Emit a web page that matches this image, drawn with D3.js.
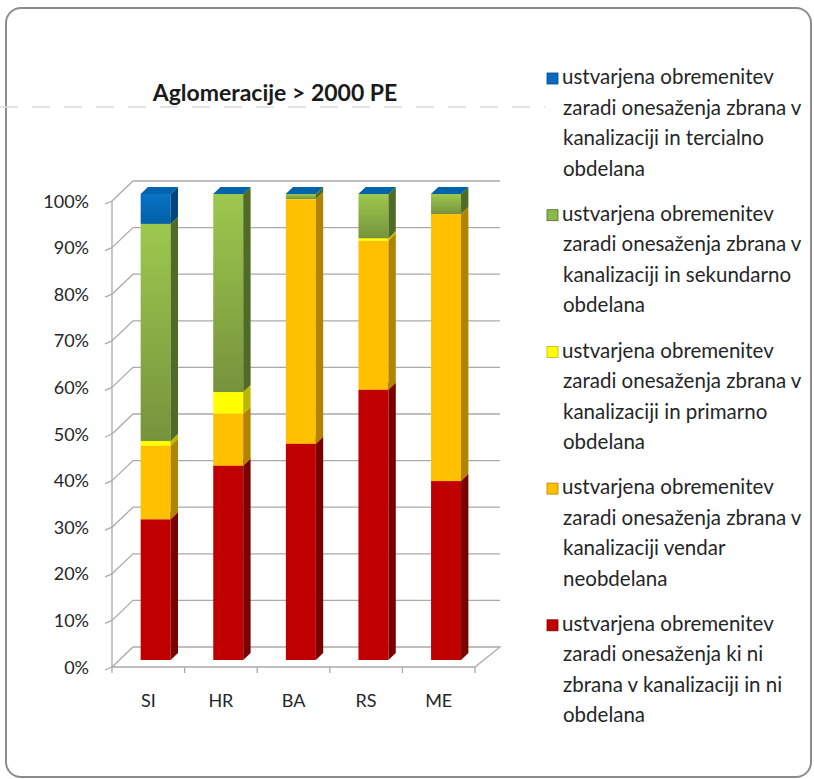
<!DOCTYPE html>
<meta charset="utf-8">
<style>
  body { margin: 0; background: #fff; }
  svg { display: block; }
</style>
<svg width="814" height="779"></svg>
<script src="https://cdn.jsdelivr.net/npm/d3@7"></script>
<script>

var svg = d3.select("svg");
var font = "Lato, 'Open Sans', sans-serif";

// data (percent of generated load)
var countries = ["SI", "HR", "BA", "RS", "ME"];
var red    = [30.2, 41.7, 46.4, 58.0, 38.4];   // ni zbrana, ni obdelana
var orange = [15.8, 11.2, 52.5, 32.0, 57.3];   // zbrana, neobdelana
var yellow = [1.0, 4.6, 0, 0.5, 0];            // primarno
var green  = [46.6, 42.5, 1.1, 9.5, 4.3];      // sekundarno
var blue   = [6.4, 0, 0, 0, 0];                // tercialno
var yTicks = [0, 10, 20, 30, 40, 50, 60, 70, 80, 90, 100];
var title = "Aglomeracije > 2000 PE";
var legendLines = [
  ["ustvarjena obremenitev", "zaradi onesaženja zbrana v", "kanalizaciji in tercialno", "obdelana"],
  ["ustvarjena obremenitev", "zaradi onesaženja zbrana v", "kanalizaciji in sekundarno", "obdelana"],
  ["ustvarjena obremenitev", "zaradi onesaženja zbrana v", "kanalizaciji in primarno", "obdelana"],
  ["ustvarjena obremenitev", "zaradi onesaženja zbrana v", "kanalizaciji vendar", "neobdelana"],
  ["ustvarjena obremenitev", "zaradi onesaženja ki ni", "zbrana v kanalizaciji in ni", "obdelana"]
];

// stacking order bottom -> top
var series = [
  {key: "red",    values: red,    front: "#c00000", side: "#7a0000", top: "#d01818"},
  {key: "orange", values: orange, front: "#ffc000", side: "#b08400", top: "#ffcf33"},
  {key: "yellow", values: yellow, front: "#ffff00", side: "#b8b800", top: "#ffff66"},
  {key: "green",  values: green,  front: "url(#gGreen)", side: "#4f6b25", top: "#8cb84a"},
  {key: "blue",   values: blue,   front: "url(#gBlue)", side: "#00467e", top: "#0063ad"}
];

var defs = svg.append("defs");
var gg = defs.append("linearGradient").attr("id", "gGreen").attr("x1", 0).attr("y1", 0).attr("x2", 0).attr("y2", 1);
gg.append("stop").attr("offset", "0%").attr("stop-color", "#9dc84e");
gg.append("stop").attr("offset", "100%").attr("stop-color", "#76933c");
var gb = defs.append("linearGradient").attr("id", "gBlue").attr("x1", 0).attr("y1", 0).attr("x2", 0).attr("y2", 1);
gb.append("stop").attr("offset", "0%").attr("stop-color", "#0a72c4");
gb.append("stop").attr("offset", "100%").attr("stop-color", "#0060a8");

// frame
svg.append("rect")
    .attr("x", 6).attr("y", 8).attr("width", 805).attr("height", 769)
    .attr("rx", 15)
    .attr("fill", "none").attr("stroke", "#8c8c8c").attr("stroke-width", 2);

// faint scan line under the title
svg.append("line")
    .attr("x1", 0).attr("x2", 545).attr("y1", 107).attr("y2", 107)
    .attr("stroke", "#dcdcdc").attr("stroke-dasharray", "18,14").attr("stroke-width", 1.5);

// geometry: front plane + depth vector
var depth = [21, -20];
var y = d3.scaleLinear().domain([0, 100]).range([667, 201]);
var x = d3.scaleBand().domain(countries).range([112, 475]).paddingInner(0.587).paddingOuter(0.2935);
var bandX = d3.scaleBand().domain(countries).range([112, 475]);

var grid = svg.append("g").attr("stroke", "#aaaaaa").attr("stroke-width", 1.3).attr("fill", "none");
var backRight = 475 + depth[0] + 4;

yTicks.forEach(function(t) {
  var fy = y(t);
  if (t === 0) return;
  grid.append("path")
      .attr("d", "M112," + fy + "L" + (112 + depth[0]) + "," + (fy + depth[1]) + "H" + backRight);
  grid.append("line").attr("x1", 105).attr("x2", 112).attr("y1", fy + 3).attr("y2", fy);
});

// floor
grid.append("path")
    .attr("d", "M112," + y(0) + "L" + (112 + depth[0]) + "," + (y(0) + depth[1]) +
               "H" + backRight + "L" + (475) + "," + y(0) + "Z");
grid.append("line").attr("x1", 105).attr("x2", 112).attr("y1", y(0) + 3).attr("y2", y(0));
grid.append("line").attr("x1", 112).attr("x2", 112).attr("y1", y(100)).attr("y2", y(0));
bandX.domain().concat(["end"]).forEach(function(c, i) {
  var xx = 112 + i * bandX.step();
  grid.append("line").attr("x1", xx).attr("x2", xx).attr("y1", y(0)).attr("y2", y(0) + 6);
});

// y labels
svg.append("g").selectAll("text").data(yTicks).join("text")
    .attr("x", 89).attr("y", function(d) { return y(d) + 2; })
    .attr("text-anchor", "end").attr("dominant-baseline", "middle")
    .attr("font-family", font).attr("font-size", 18).attr("fill", "#262626")
    .text(function(d) { return d + "%"; });

// x labels
svg.append("g").selectAll("text").data(countries).join("text")
    .attr("x", function(d) { return bandX(d) + bandX.bandwidth() / 2; })
    .attr("y", 707)
    .attr("text-anchor", "middle")
    .attr("font-family", font).attr("font-size", 18).attr("fill", "#262626")
    .text(function(d) { return d; });

// bars
var t0 = 0.35, t1 = 0.7;
var ox = depth[0] * t0, oy = depth[1] * t0;
var dx = depth[0] * (t1 - t0), dy = depth[1] * (t1 - t0);
var bw = x.bandwidth();
var bars = svg.append("g");

countries.forEach(function(c, i) {
  var base = 0;
  var bx = x(c) + ox;
  series.forEach(function(s) {
    var v = s.values[i];
    var yb = y(base) + oy, yt = y(base + v) + oy;
    if (v > 0) {
      bars.append("rect").attr("x", bx).attr("y", yt).attr("width", bw).attr("height", yb - yt)
          .attr("fill", s.front);
      bars.append("path")
          .attr("d", "M" + (bx + bw) + "," + yb + "L" + (bx + bw + dx) + "," + (yb + dy) +
                     "L" + (bx + bw + dx) + "," + (yt + dy) + "L" + (bx + bw) + "," + yt + "Z")
          .attr("fill", s.side);
    }
    bars.append("path")
        .attr("d", "M" + bx + "," + yt + "L" + (bx + bw) + "," + yt +
                   "L" + (bx + bw + dx) + "," + (yt + dy) + "L" + (bx + dx) + "," + (yt + dy) + "Z")
        .attr("fill", s.top);
    base += v;
  });
});

// title
svg.append("text")
    .attr("x", 275).attr("y", 101)
    .attr("text-anchor", "middle")
    .attr("font-family", font).attr("font-weight", "bold").attr("font-size", 23).attr("fill", "#1a1a1a")
    .text(title);

// legend (top -> bottom: blue, green, yellow, orange, red)
var legendSeries = series.slice().reverse();
var legend = svg.append("g");
legendSeries.forEach(function(s, i) {
  var gy = 79 + i * 136.7;
  legend.append("rect")
      .attr("x", 547).attr("y", gy - 6).attr("width", 11).attr("height", 11)
      .attr("fill", s.key === "green" ? "#8cb84a" : s.key === "blue" ? "#0a6cc0" : s.front)
      .attr("stroke", s.side).attr("stroke-width", 0.8);
  legendLines[i].forEach(function(line, j) {
    legend.append("text")
        .attr("x", j === 0 ? 562 : 563).attr("y", gy + j * 30.5)
        .attr("dominant-baseline", "middle")
        .attr("font-family", font).attr("font-size", 20.5).attr("fill", "#262626")
        .text(line);
  });
});

</script>
